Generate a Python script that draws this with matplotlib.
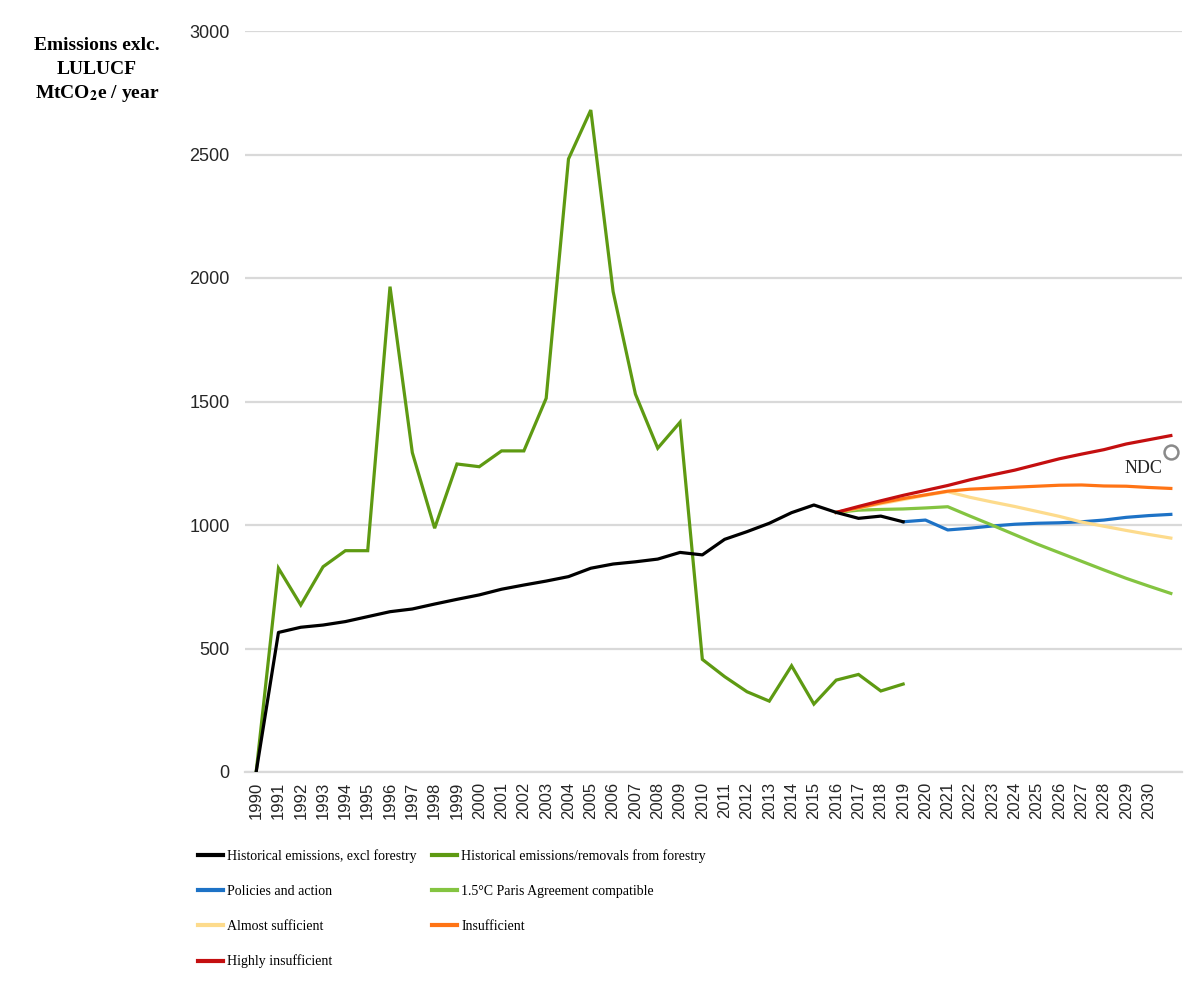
import matplotlib
matplotlib.use("Agg")
import matplotlib.pyplot as plt
from matplotlib.lines import Line2D

# ---- data -------------------------------------------------------------
years = list(range(1990, 2032))          # category slots on the x axis
tick_labels = [str(y) for y in range(1990, 2031)] + [""]

hist_excl_forestry = [0, 565, 586, 595, 609, 629, 649, 660, 680, 699,
                      717, 740, 757, 773, 791, 825, 842, 851, 862, 889,
                      879, 942, 973, 1007, 1050, 1081, 1051, 1027, 1036, 1013]
hist_forestry = [0, 825, 676, 831, 896, 896, 1965, 1293, 987, 1247,
                 1236, 1300, 1300, 1513, 2482, 2680, 1945, 1530, 1311, 1416,
                 456, 386, 325, 287, 430, 275, 372, 395, 328, 356]

policies_start = 2019
policies = [1013, 1020, 980, 987, 996, 1003, 1007, 1009, 1013, 1020,
            1031, 1038, 1043]

scen_start = 2016
paris_15 = [1051, 1060, 1063, 1065, 1069, 1074, 1036, 999, 961, 923,
            888, 853, 818, 784, 753, 723]
almost_sufficient = [1051, 1068, 1086, 1103, 1120, 1135, 1112, 1093, 1075, 1055,
                     1035, 1012, 995, 978, 962, 947]
insufficient = [1051, 1070, 1090, 1107, 1122, 1137, 1145, 1149, 1153, 1157,
                1161, 1162, 1158, 1157, 1152, 1148]
highly_insufficient = [1051, 1075, 1098, 1120, 1140, 1160, 1183, 1203, 1222, 1245,
                       1268, 1287, 1305, 1328, 1345, 1362]

ndc_year = 2031
ndc_value = 1297

y_ticks = [0, 500, 1000, 1500, 2000, 2500, 3000]

# ---- style ------------------------------------------------------------
C_BLACK = "#000000"
C_FOREST = "#5E9A12"
C_POLICY = "#1D72C6"
C_PARIS = "#84C441"
C_ALMOST = "#FDDB8C"
C_INSUFF = "#FF7415"
C_HIGHLY = "#C40F10"
C_GRID = "#D9D9D9"
SERIF = ["Liberation Serif", "DejaVu Serif"]
SANS = ["Liberation Sans", "DejaVu Sans"]
LW = 2.3

plt.rcParams["mathtext.fontset"] = "stix"

fig = plt.figure(figsize=(12, 9.85), dpi=100)
W, H = 1200, 985
ax = fig.add_axes([245 / W, 1 - 772 / H, (1182 - 245) / W, (772 - 31) / H])


def idx(start, n):
    i0 = years.index(start)
    return list(range(i0, i0 + n))


ax.plot(idx(1990, len(hist_forestry)), hist_forestry, color=C_FOREST, lw=LW,
        solid_joinstyle="miter", zorder=3)
ax.plot(idx(1990, len(hist_excl_forestry)), hist_excl_forestry, color=C_BLACK,
        lw=LW, zorder=4)
ax.plot(idx(policies_start, len(policies)), policies, color=C_POLICY, lw=LW, zorder=3)
ax.plot(idx(scen_start, len(paris_15)), paris_15, color=C_PARIS, lw=LW, zorder=3)
ax.plot(idx(scen_start, len(almost_sufficient)), almost_sufficient, color=C_ALMOST,
        lw=LW, zorder=3)
ax.plot(idx(scen_start, len(insufficient)), insufficient, color=C_INSUFF, lw=LW, zorder=3)
ax.plot(idx(scen_start, len(highly_insufficient)), highly_insufficient, color=C_HIGHLY,
        lw=LW, zorder=3)

# NDC target marker
ndc_x = years.index(ndc_year)
ax.plot([ndc_x], [ndc_value], marker="o", ms=10, mfc="white", mec="#8A8A8A",
        mew=1.8, zorder=5, clip_on=False)
ax.annotate("NDC", xy=(ndc_x, ndc_value), xytext=(-6, -12), textcoords="offset points",
            ha="right", va="center", fontsize=13, family=SERIF, color="#222222")

# axes
ax.set_xlim(-0.5, len(years) - 0.5)
ax.set_ylim(0, 3000)
ax.set_yticks(y_ticks)
ax.set_yticklabels([str(v) for v in y_ticks], family=SANS, fontsize=13, color="#262626")
ax.set_xticks(range(len(years)))
ax.set_xticklabels(tick_labels, rotation=90, family=SANS, fontsize=12, color="#262626")
ax.tick_params(axis="y", length=0, pad=11)
ax.tick_params(axis="x", length=0, pad=7)
ax.grid(axis="y", color=C_GRID, lw=1.6)
ax.set_axisbelow(True)
for s in ("top", "right", "left"):
    ax.spines[s].set_visible(False)
ax.spines["bottom"].set_color(C_GRID)
ax.spines["bottom"].set_linewidth(1.6)
ax.spines["bottom"].set_zorder(1)

# y axis title
fig.text(97 / W, 1 - 46 / H, "Emissions exlc.", ha="center", va="center",
         fontsize=14, fontweight="bold", family=SERIF)
fig.text(97 / W, 1 - 69 / H, "LULUCF", ha="center", va="center",
         fontsize=14, fontweight="bold", family=SERIF)
fig.text(97 / W, 1 - 93 / H, r"MtCO$_{\mathbf{2}}$e / year", ha="center", va="center",
         fontsize=14, fontweight="bold", family=SERIF)

# legend in two columns
col1 = [("Historical emissions, excl forestry", C_BLACK),
        ("Policies and action", C_POLICY),
        ("Almost sufficient", C_ALMOST),
        ("Highly insufficient", C_HIGHLY)]
col2 = [("Historical emissions/removals from forestry", C_FOREST),
        ("1.5°C Paris Agreement compatible", C_PARIS),
        ("Insufficient", C_INSUFF)]

FS_LEG = 10
for items, x0 in ((col1, 198), (col2, 432)):
    handles = [Line2D([], [], color=c, lw=3) for _, c in items]
    labels = [t for t, _ in items]
    fig.legend(handles, labels, loc="upper left",
               bbox_to_anchor=(x0 / W, 1 - 849 / H), frameon=False,
               borderpad=0, borderaxespad=0, handlelength=1.8,
               handletextpad=0.3, labelspacing=1.58,
               prop={"family": SERIF, "size": FS_LEG})

fig.savefig("out.png", dpi=100, facecolor="white")
